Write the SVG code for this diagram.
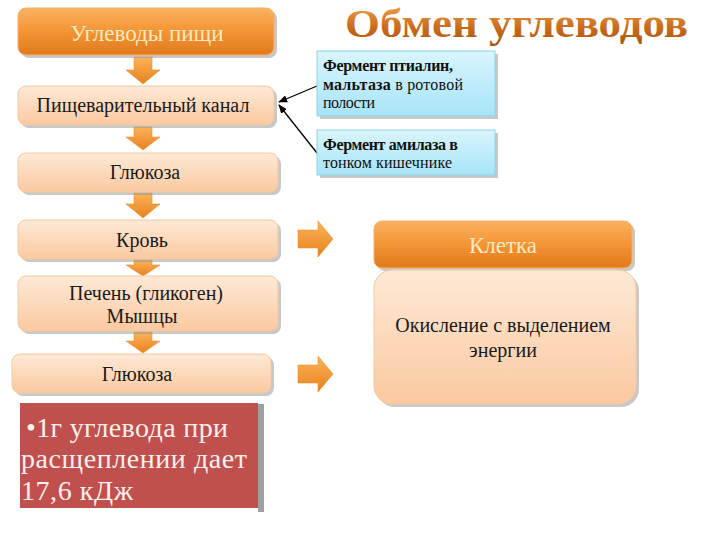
<svg xmlns="http://www.w3.org/2000/svg" width="720" height="540" viewBox="0 0 720 540">
<defs>
<linearGradient id="gOr" x1="0" y1="0" x2="0" y2="1"><stop offset="0" stop-color="#fbb25f"/><stop offset="0.5" stop-color="#f39435"/><stop offset="1" stop-color="#e07a1c"/></linearGradient>
<linearGradient id="gPe" x1="0" y1="0" x2="0" y2="1"><stop offset="0" stop-color="#fee9d6"/><stop offset="1" stop-color="#fac9a0"/></linearGradient>
<linearGradient id="gBl" x1="0" y1="0" x2="0" y2="1"><stop offset="0" stop-color="#d9f5fd"/><stop offset="1" stop-color="#a6e4f7"/></linearGradient>
<linearGradient id="gAr" x1="0" y1="0" x2="0" y2="1"><stop offset="0" stop-color="#fbb45a"/><stop offset="1" stop-color="#e8811e"/></linearGradient>
<linearGradient id="gTi" x1="0" y1="0" x2="0" y2="1"><stop offset="0" stop-color="#f2a850"/><stop offset="0.6" stop-color="#c96a1c"/><stop offset="1" stop-color="#a85410"/></linearGradient>
<marker id="ah" viewBox="0 0 10 10" refX="9" refY="5" markerWidth="7" markerHeight="7" orient="auto"><path d="M0,1 L10,5 L0,9 z" fill="#000"/></marker>
</defs>
<style>
.or{fill:url(#gOr);stroke:#f6b06a;stroke-width:1}
.pe{fill:url(#gPe);stroke:#f3c9a0;stroke-width:1}
.bl{fill:url(#gBl);stroke:#8fd3ea;stroke-width:1}
.sh{fill:#9a9a9a;opacity:0.55}
.ar{fill:url(#gAr);stroke:#e8902f;stroke-width:0.6}
.tw{font-family:"Liberation Serif","DejaVu Serif",serif;font-size:23px;fill:#fdeac0;text-anchor:middle}
.tb{font-family:"Liberation Serif","DejaVu Serif",serif;font-size:20px;fill:#1a1a1a;text-anchor:middle}
.ts{font-family:"Liberation Serif","DejaVu Serif",serif;font-size:16px;fill:#111}
.ln{stroke:#000;stroke-width:1.3;fill:none}
</style>
<rect width="720" height="540" fill="#ffffff"/>
<text x="345" y="37" font-family="Liberation Serif, DejaVu Serif, serif" font-size="40" font-weight="bold" fill="url(#gTi)" textLength="343" lengthAdjust="spacingAndGlyphs">Обмен углеводов</text>

<g id="arrows">
<path class="ar" d="M134,57 h18 v13 h8 l-17,14 l-17,-14 h8 z"/>
<path class="ar" d="M134,127 h18 v10 h8 l-17,13 l-17,-13 h8 z"/>
<path class="ar" d="M134,193 h18 v11 h8 l-17,14 l-17,-14 h8 z"/>
<path class="ar" d="M134,260 h18 v5 h8 l-17,11 l-17,-11 h8 z"/>
<path class="ar" d="M134,332 h18 v9 h8 l-17,12 l-17,-12 h8 z"/>
<path class="ar" d="M298,230 h20 v-9 l15,18 l-15,18 v-9 h-20 z"/>
<path class="ar" d="M298,365 h20 v-9 l15,18 l-15,18 v-9 h-20 z"/>
</g>

<g id="connectors">
<line class="ln" x1="317" y1="86" x2="279" y2="102" marker-end="url(#ah)"/>
<line class="ln" x1="317" y1="153" x2="279" y2="105" marker-end="url(#ah)"/>
</g>

<g id="n-food">
<rect class="sh" x="21" y="11" width="256" height="47" rx="8"/>
<rect class="or" x="18" y="8" width="256" height="47" rx="8"/>
<text class="tw" x="147" y="41">Углеводы пищи</text>
</g>
<g id="n-canal">
<rect class="sh" x="21" y="89" width="256" height="39" rx="8"/>
<rect class="pe" x="18" y="86" width="256" height="39" rx="8"/>
<text class="tb" x="143" y="112">Пищеварительный канал</text>
</g>
<g id="n-glu1">
<rect class="sh" x="21" y="156" width="260" height="39" rx="8"/>
<rect class="pe" x="18" y="153" width="260" height="39" rx="8"/>
<text class="tb" x="145" y="179">Глюкоза</text>
</g>
<g id="n-blood">
<rect class="sh" x="21" y="223" width="260" height="39" rx="8"/>
<rect class="pe" x="18" y="220" width="260" height="39" rx="8"/>
<text class="tb" x="142" y="247">Кровь</text>
</g>
<g id="n-liver">
<rect class="sh" x="21" y="279" width="260" height="55" rx="8"/>
<rect class="pe" x="18" y="276" width="260" height="55" rx="8"/>
<text class="tb" x="146" y="300">Печень (гликоген)</text>
<text class="tb" x="142" y="323">Мышцы</text>
</g>
<g id="n-glu2">
<rect class="sh" x="15" y="357" width="259" height="39" rx="8"/>
<rect class="pe" x="12" y="354" width="259" height="39" rx="8"/>
<text class="tb" x="137" y="381">Глюкоза</text>
</g>

<g id="n-ptialin">
<rect class="sh" x="320" y="54" width="178" height="65"/>
<rect class="bl" x="317" y="51" width="178" height="65"/>
<text class="ts" x="323" y="71" textLength="130" font-weight="bold">Фермент птиалин,</text>
<text class="ts" x="323" y="90" textLength="140"><tspan font-weight="bold">мальтаза</tspan><tspan> в ротовой</tspan></text>
<text class="ts" x="323" y="108" textLength="52">полости</text>
</g>
<g id="n-amylase">
<rect class="sh" x="320" y="133" width="178" height="45"/>
<rect class="bl" x="317" y="130" width="178" height="45"/>
<text class="ts" x="323" y="150" textLength="135" font-weight="bold">Фермент амилаза в</text>
<text class="ts" x="323" y="168" textLength="129">тонком кишечнике</text>
</g>

<g id="n-cell">
<rect class="sh" x="377" y="224" width="258" height="47" rx="8"/>
<rect class="or" x="374" y="221" width="258" height="47" rx="8"/>
<text class="tw" x="503" y="253">Клетка</text>
</g>
<g id="n-oxid">
<rect class="sh" x="377" y="273" width="262" height="134" rx="18"/>
<rect class="pe" x="374" y="270" width="262" height="134" rx="18"/>
<text class="tb" x="503" y="332">Окисление с выделением</text>
<text class="tb" x="503" y="357">энергии</text>
</g>

<g id="n-note">
<rect x="258" y="404" width="6" height="108" fill="#a0a0a0"/>
<rect x="20" y="403" width="238" height="105" fill="#c0504d"/>
<text font-family="Liberation Serif, DejaVu Serif, serif" font-size="28" fill="#fdf0ee">
<tspan x="26" y="437" textLength="202">•1г углевода при</tspan>
<tspan x="21" y="468" textLength="226">расщеплении дает</tspan>
<tspan x="21" y="500" textLength="112">17,6 кДж</tspan>
</text>
</g>
</svg>
